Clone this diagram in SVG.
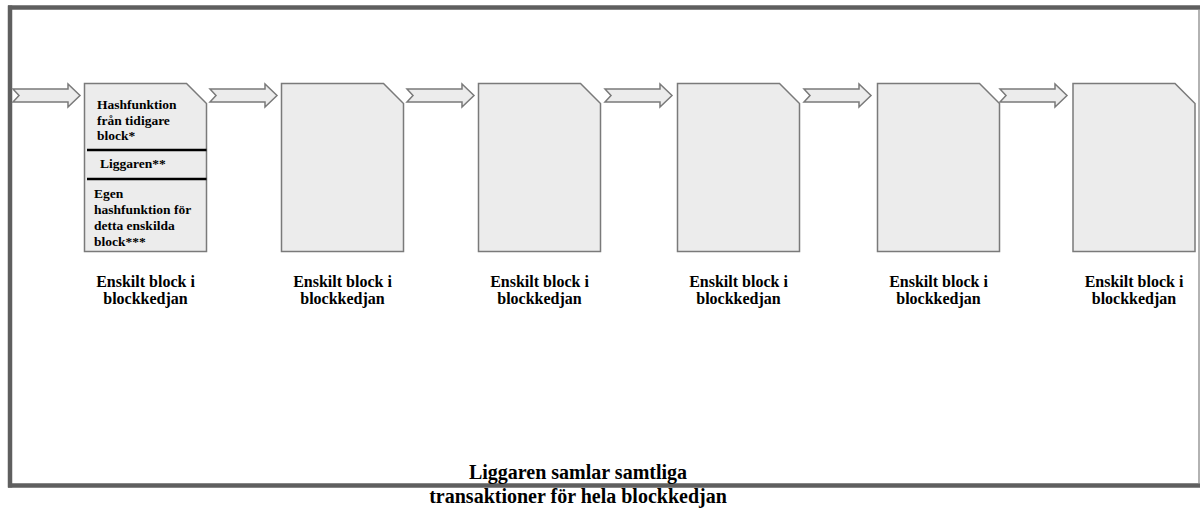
<svg xmlns="http://www.w3.org/2000/svg" xmlns:xlink="http://www.w3.org/1999/xlink" width="1200" height="509" viewBox="0 0 1200 509">
  <style>
    .frame { fill: none; stroke: #5f5f5f; stroke-width: 4.5; }
    .block { fill: #ececec; stroke: #7a7a7a; stroke-width: 1.5; stroke-linejoin: miter; }
    .arrow { fill: #ececec; stroke: #7a7a7a; stroke-width: 1.5; stroke-linejoin: miter; }
    .divider { stroke: #000; stroke-width: 2.5; }
    .inner { font-family: "Liberation Serif", "Times New Roman", serif; font-weight: bold; font-size: 13.5px; fill: #000; }
    .label { font-family: "Liberation Serif", "Times New Roman", serif; font-weight: bold; font-size: 16px; fill: #000; text-anchor: middle; }
    .caption { font-family: "Liberation Serif", "Times New Roman", serif; font-weight: bold; font-size: 20px; fill: #000; text-anchor: middle; }
  </style>
  <defs>
    <!-- notched block arrow, tail at x=0, tip at x=67, centred on y=0 -->
    <path id="chainArrow" class="arrow" d="M0,-6.5 L55,-6.5 L55,-11.5 L67,0 L55,11.5 L55,6.5 L0,6.5 L6,0 Z"/>
    <!-- block with folded top-right corner, 122 x 168 -->
    <path id="blockShape" class="block" d="M0,0 L102,0 L122,20 L122,168 L0,168 Z"/>
  </defs>

  <rect width="1200" height="509" fill="#fff"/>

  <!-- outer frame -->
  <g id="frame">
    <line class="frame" x1="8" y1="7.5" x2="1200" y2="7.5"/>
    <line class="frame" x1="10" y1="5.5" x2="10" y2="487.5"/>
    <line class="frame" x1="8" y1="485.5" x2="1200" y2="485.5"/>
    <line x1="1199" y1="10" x2="1199" y2="483" stroke="#9a9a9a" stroke-width="1.5"/>
  </g>

  <!-- connectors -->
  <g id="connectors">
    <use xlink:href="#chainArrow" transform="translate(13,95.5)"/>
    <use xlink:href="#chainArrow" transform="translate(210,95.5)"/>
    <use xlink:href="#chainArrow" transform="translate(407,95.5)"/>
    <use xlink:href="#chainArrow" transform="translate(605,95.5)"/>
    <use xlink:href="#chainArrow" transform="translate(804,95.5)"/>
    <use xlink:href="#chainArrow" transform="translate(1000,95.5)"/>
  </g>

  <!-- first block with its three sections -->
  <g id="block1">
    <use xlink:href="#blockShape" transform="translate(84.5,83.5)"/>
    <text class="inner" x="97" y="109">Hashfunktion</text>
    <text class="inner" x="97" y="124.5">från tidigare</text>
    <text class="inner" x="97" y="140">block*</text>
    <line class="divider" x1="87" y1="150" x2="206.5" y2="150"/>
    <text class="inner" x="100" y="167.5">Liggaren**</text>
    <line class="divider" x1="87" y1="179" x2="206.5" y2="179"/>
    <text class="inner" x="94" y="198">Egen</text>
    <text class="inner" x="94" y="214">hashfunktion för</text>
    <text class="inner" x="94" y="230">detta enskilda</text>
    <text class="inner" x="94" y="246">block***</text>
    <text class="label" x="145.5" y="287">Enskilt block i</text>
    <text class="label" x="145.5" y="304">blockkedjan</text>
  </g>

  <g id="block2">
    <use xlink:href="#blockShape" transform="translate(281.5,83.5)"/>
    <text class="label" x="342.5" y="287">Enskilt block i</text>
    <text class="label" x="342.5" y="304">blockkedjan</text>
  </g>

  <g id="block3">
    <use xlink:href="#blockShape" transform="translate(478.5,83.5)"/>
    <text class="label" x="539.5" y="287">Enskilt block i</text>
    <text class="label" x="539.5" y="304">blockkedjan</text>
  </g>

  <g id="block4">
    <use xlink:href="#blockShape" transform="translate(677.5,83.5)"/>
    <text class="label" x="738.5" y="287">Enskilt block i</text>
    <text class="label" x="738.5" y="304">blockkedjan</text>
  </g>

  <g id="block5">
    <use xlink:href="#blockShape" transform="translate(877.5,83.5)"/>
    <text class="label" x="938.5" y="287">Enskilt block i</text>
    <text class="label" x="938.5" y="304">blockkedjan</text>
  </g>

  <g id="block6">
    <use xlink:href="#blockShape" transform="translate(1073,83.5)"/>
    <text class="label" x="1134" y="287">Enskilt block i</text>
    <text class="label" x="1134" y="304">blockkedjan</text>
  </g>

  <!-- caption across the bottom edge -->
  <g id="caption">
    <text class="caption" x="578" y="479">Liggaren samlar samtliga</text>
    <text class="caption" x="578" y="503">transaktioner för hela blockkedjan</text>
  </g>
</svg>
